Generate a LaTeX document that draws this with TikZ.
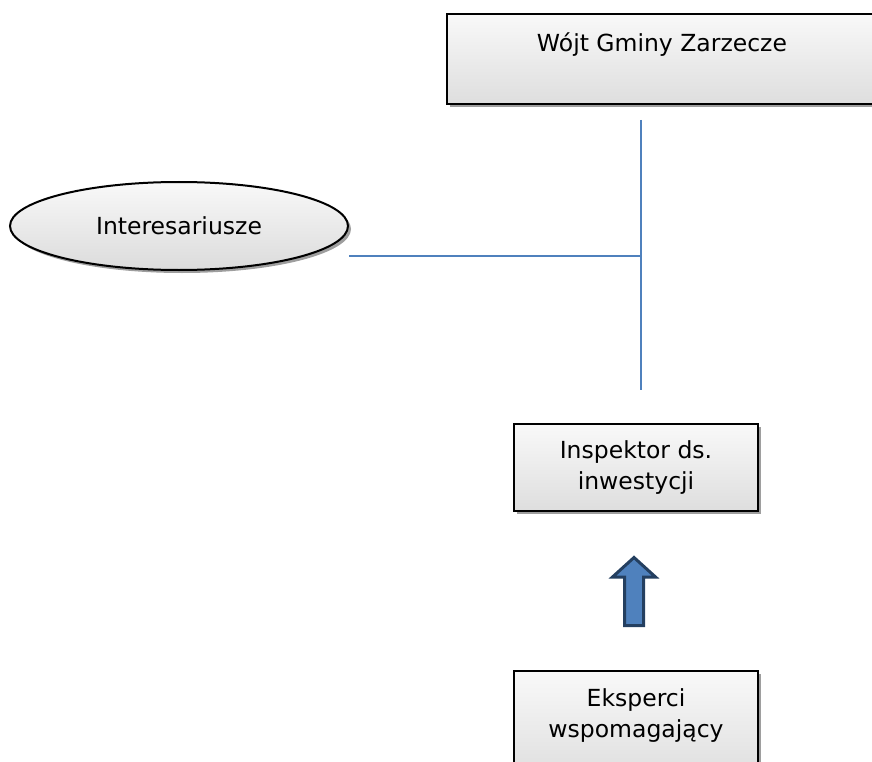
\documentclass[tikz,border=0pt]{standalone}
\usepackage{fontspec}
\setmainfont{DejaVu Sans}
\usetikzlibrary{positioning}
\usetikzlibrary{shapes}
\usetikzlibrary{shadows}

\definecolor{officeblue}{HTML}{4F81BD}
\definecolor{darkblue}{HTML}{243F60}

\tikzset{
    box/.style={rectangle, draw=black, line width=2pt,
        top color=gray!5, bottom color=gray!26,
        drop shadow={shadow xshift=3pt, shadow yshift=-3pt, fill=black!38, opacity=1},
        font=\fontsize{23.5}{31}\selectfont, align=center, inner ysep=4pt,
        minimum width=244pt, minimum height=87pt},
    oval/.style={ellipse, draw=black, line width=2pt,
        top color=gray!5, bottom color=gray!28,
        drop shadow={shadow xshift=3pt, shadow yshift=-3pt, fill=black!38, opacity=1},
        font=\fontsize{23.5}{31}\selectfont,
        minimum width=338pt, minimum height=88pt},
    link/.style={draw=officeblue, line width=1.5pt},
    blockarrow/.style={fill=officeblue, draw=darkblue, line width=3pt}
}

\begin{document}
\begin{tikzpicture}[x=1pt,y=-1pt]
    \useasboundingbox (0,0) rectangle (872,762);

    %draw boxes
    \node[box, anchor=north west, minimum width=430pt, minimum height=90pt,
        text height=34pt, text depth=48pt] (wojt) at (446,13) {Wójt Gminy Zarzecze};
    \node[oval] (inter) at (179,226) {Interesariusze};
    \node[box, anchor=north west] (insp) at (513,423) {Inspektor ds.\\inwestycji};
    \node[box, below=158pt of insp, minimum height=110pt, text depth=26pt] (eksp) {Eksperci\\wspomagający};

    %draw lines
    \coordinate (linetop) at (641,120);
    \coordinate (linebottom) at (641,390);
    \coordinate (junction) at (641,256);
    \draw[link] (linetop) -- (linebottom);
    \draw[link] (inter.east |- junction) -- (junction);

    %draw arrow
    \draw[blockarrow] (624.5,625.5) -- (624.5,577) -- (612.5,577) -- (634,557.5)
        -- (655.5,577) -- (643.5,577) -- (643.5,625.5) -- cycle;

\end{tikzpicture}
\end{document}
